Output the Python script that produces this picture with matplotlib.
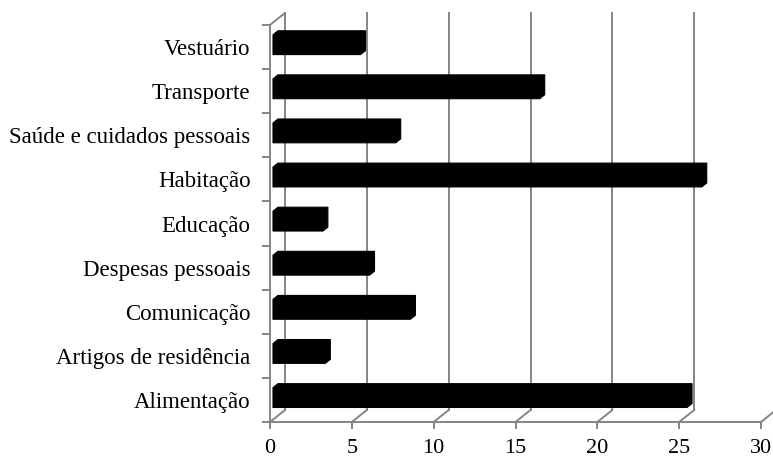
import matplotlib
matplotlib.use("Agg")
import matplotlib.pyplot as plt
from matplotlib.patches import Polygon

categories = ["Alimentação", "Artigos de residência", "Comunicação",
              "Despesas pessoais", "Educação", "Habitação",
              "Saúde e cuidados pessoais", "Transporte", "Vestuário"]
values = [25.3, 3.2, 8.4, 5.9, 3.05, 26.2, 7.5, 16.3, 5.35]
x_ticks = [0, 5, 10, 15, 20, 25, 30]

W, H = 773, 458
fig = plt.figure(figsize=(W / 100, H / 100), dpi=100)
plt.rcParams["font.family"] = ["Liberation Serif", "DejaVu Serif"]

# front plane of the pseudo-3D box, in pixels
x0px, x1px, y0px, y1px = 270, 761, 422, 25
ax = fig.add_axes([x0px / W, 1 - y0px / H, (x1px - x0px) / W, (y0px - y1px) / H])
n = len(categories)
ax.set_xlim(0, 30)
ax.set_ylim(0, n)

# depth of the box (back wall offset) in data units
ppx = (x1px - x0px) / 30.0
ppy = (y0px - y1px) / n
dxf = 15 / ppx
dyf = 12 / ppy

grey = "#858585"
lw = 1.4

for s in ["top", "right"]:
    ax.spines[s].set_visible(False)
for s in ["left", "bottom"]:
    ax.spines[s].set_color(grey)
    ax.spines[s].set_linewidth(lw)

ax.set_xticks(x_ticks)
ax.set_xticklabels([str(t) for t in x_ticks], fontsize=16)
ax.tick_params(axis="x", length=5, width=lw, color=grey, pad=7)
ax.set_yticks(range(n + 1))
ax.set_yticklabels([])
ax.tick_params(axis="y", which="major", length=6, width=lw, color=grey)
ax.set_yticks([i + 0.5 for i in range(n)], minor=True)
ax.set_yticklabels(categories, minor=True, fontsize=16.5)
ax.tick_params(axis="y", which="minor", length=0, pad=14)

# back wall gridlines and floor diagonals
for t in x_ticks:
    ax.plot([t, t + dxf], [0, dyf], color=grey, lw=lw, clip_on=False)
    ax.plot([t + dxf, t + dxf], [dyf, n + dyf], color=grey, lw=lw, clip_on=False)
# top edge of the left wall
ax.plot([0, dxf], [n, n + dyf], color=grey, lw=lw, clip_on=False)

# bars: hexagonal outline of a solid box seen from the front
a, b = 0.2, 0.53
h = 0.45
for i, v in enumerate(values):
    c = i + 0.5
    fx, fy = a * dxf, a * dyf
    ddx, ddy = (b - a) * dxf, (b - a) * dyf
    xa, xb = fx, fx + v
    ya, yb = c - h / 2 + fy, c + h / 2 + fy
    pts = [(xa, ya), (xa, yb), (xa + ddx, yb + ddy), (xb + ddx, yb + ddy),
           (xb + ddx, ya + ddy), (xb, ya)]
    ax.add_patch(Polygon(pts, closed=True, facecolor="black", edgecolor="black",
                         lw=0.8, joinstyle="round", zorder=3, clip_on=False))

ax.patch.set_visible(False)
fig.savefig("out.png", dpi=100)
